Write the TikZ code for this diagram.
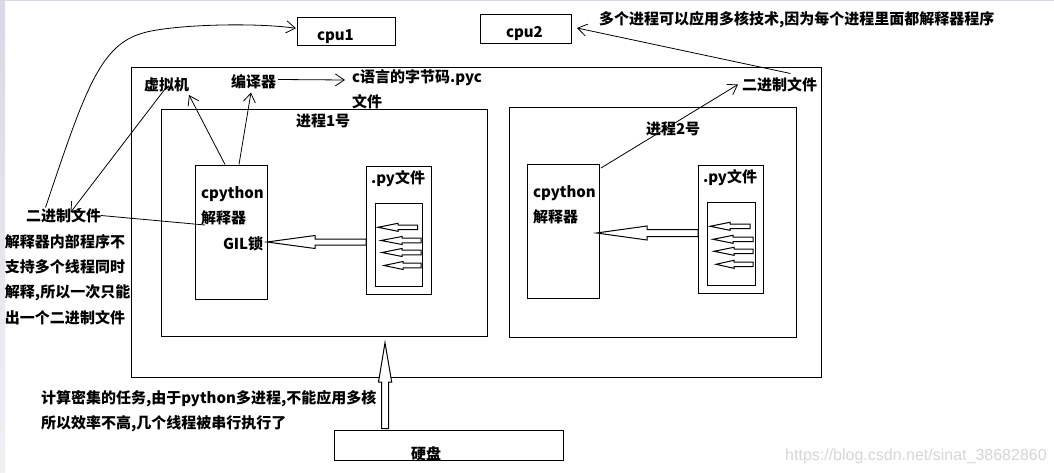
\documentclass[tikz,border=0pt]{standalone}
\usepackage{fontspec}
\setmainfont{Noto Sans CJK SC}
\newfontfamily\wmfont{Liberation Sans}
\usetikzlibrary{arrows.meta}
\newcommand{\hblock}[6]{% tip x, y, base x, tail x, shaft half, head half
  \draw[blockline] (#1,#2) -- (#3,#2-#6) -- (#3,#2-#5) -- (#4,#2-#5) -- (#4,#2+#5) -- (#3,#2+#5) -- (#3,#2+#6) -- cycle;}
\tikzset{
  box/.style={draw=black,line width=1pt,anchor=north west,inner sep=0pt,outer sep=0pt,fill=none},
  lab/.style={anchor=west,inner sep=0pt,outer sep=0pt,font=\fontsize{15}{15}\selectfont\bfseries,text=black},
  thin/.style={draw=black,line width=0.8pt},
  arr/.style={thin,-{Straight Barb[length=9pt,width=12pt,line width=0.8pt]}},
  blockline/.style={draw=black,line width=1pt,fill=white,line join=miter},
}
\begin{document}
\begin{tikzpicture}[x=1pt,y=-1pt]
\useasboundingbox (0,0) rectangle (1054,473);
\fill[white] (0,0) rectangle (1054,473);
\shade[top color=blue!20!gray!25!white,bottom color=blue!12!gray!10!white,draw=none] (0,0) rectangle (5,473);
\fill[blue!20!gray!25!white] (0,0) rectangle (1054,1.5);
% boxes
\node[box,minimum width=98pt,minimum height=28pt] (cpuA) at (297.5,17.5) {};
\node[box,minimum width=91pt,minimum height=29pt] (cpuB) at (480,15) {};
\node[box,minimum width=690pt,minimum height=310pt] (outer) at (131.5,67.5) {};
\node[box,minimum width=326pt,minimum height=227pt] (procA) at (161.5,109.5) {};
\node[box,minimum width=287.5pt,minimum height=230pt] (procB) at (509,107.5) {};
\node[box,minimum width=72pt,minimum height=134pt] (cpyA) at (195.5,165.5) {};
\node[box,minimum width=65pt,minimum height=128pt] (pyA) at (366.5,166.5) {};
\node[box,minimum width=47pt,minimum height=83pt] (inA) at (375.5,203.5) {};
\node[box,minimum width=72pt,minimum height=134pt] (cpyB) at (527.5,164.5) {};
\node[box,minimum width=65.5pt,minimum height=128pt] (pyB) at (698,165.5) {};
\node[box,minimum width=48pt,minimum height=83pt] (inB) at (707,202.5) {};
\node[box,minimum width=229pt,minimum height=30pt] (disk) at (334.5,430.5) {};
% labels
\node[lab] (tcpuA) at (317,37) {cpu1};
\node[lab] (tcpuB) at (506,34) {cpu2};
\node[lab] (note) at (599,19.5) {多个进程可以应用多核技术,因为每个进程里面都解释器程序};
\node[lab] (vm) at (144,85) {虚拟机};
\node[lab] (comp) at (231,81.5) {编译器};
\node[lab] (pyc) at (352,78) {c语言的字节码.pyc};
\node[lab] (pycb) at (352,101.5) {文件};
\node[lab] (tprocA) at (296,121) {进程1号};
\node[lab] (binR) at (742,84.5) {二进制文件};
\node[lab] (tprocB) at (646,129) {进程2号};
\node[lab] (tcpyA) at (201,194) {cpython};
\node[lab] (jA) at (201,217.5) {解释器};
\node[lab] (gil) at (223,244) {GIL锁};
\node[lab] (tpyA) at (371,179) {.py文件};
\node[lab] (tcpyB) at (533,193) {cpython};
\node[lab] (jB) at (533,216.5) {解释器};
\node[lab] (tpyB) at (703,178) {.py文件};
\node[lab] (binL) at (26,215.5) {二进制文件};
\node[lab] (l1) at (5,241.5) {解释器内部程序不};
\node[lab] (l2) at (5,266.5) {支持多个线程同时};
\node[lab] (l3) at (5,292.5) {解释,所以一次只能};
\node[lab] (l4) at (5,317.5) {出一个二进制文件};
\node[lab] (b1) at (41,398.5) {计算密集的任务,由于python多进程,不能应用多核};
\node[lab] (b2) at (41,423.5) {所以效率不高,几个线程被串行执行了};
\node[lab] (tdisk) at (411,453.5) {硬盘};
\node[anchor=west,inner sep=0pt,text=black!16,font=\wmfont\fontsize{16}{16}\selectfont] (wm) at (785,456) {https://blog.csdn.net/sinat\_38682860};
% thin connectors
\draw[arr] ([shift={(-18,-8)}]binL.center) .. controls (85,90) and (100,45) .. (143,33) .. controls (170,25) and (250,22) .. ([shift={(-1.5,-3.25)}]cpuA.west);
\draw[arr] ([shift={(-1.5,4)}]vm.center) -- ([shift={(7,-3)}]binL.center);
\draw[thin] (binL.east) -- ([shift={(9.5,-7.5)}]cpyA.west);
\draw[arr] ([shift={(-6.5,-1)}]cpyA.north) -- ([shift={(22.5,10)}]vm.center);
\draw[arr] ([shift={(7.5,-1)}]cpyA.north) -- ([shift={(-2.5,11)}]comp.center);
\draw[arr] ([shift={(2,-2)}]comp.east) -- ([shift={(-7,2)}]pyc.west);
\draw[arr] ([shift={(1.5,3.5)}]cpyB.north east) -- ([shift={(-4,0)}]binR.west);
\draw[arr] ([shift={(11,-11)}]binR.center) -- ([shift={(6,-1.5)}]cpuB.east);
% block arrows
\hblock{267}{242}{315}{366}{3}{6.5}
\hblock{596.5}{233}{647}{698}{3.5}{7}
\hblock{378}{227.3}{398}{417.7}{2.3}{4}
\hblock{381}{240.5}{402}{421}{2.3}{4}
\hblock{382}{252.5}{402}{421}{2.3}{4}
\hblock{384}{265.5}{403}{421}{2.3}{4}
\hblock{710}{226.3}{730}{750}{2.3}{4}
\hblock{713}{239.3}{733}{753}{2.3}{4}
\hblock{714}{251.3}{734}{753}{2.3}{4}
\hblock{716}{264.3}{734}{753}{2.3}{4}
\draw[blockline] (385,342.7) -- (391.7,382) -- (388.5,382) -- (388.5,428.5) -- (381.5,428.5) -- (381.5,382) -- (378.5,382) -- cycle;
\end{tikzpicture}
\end{document}
